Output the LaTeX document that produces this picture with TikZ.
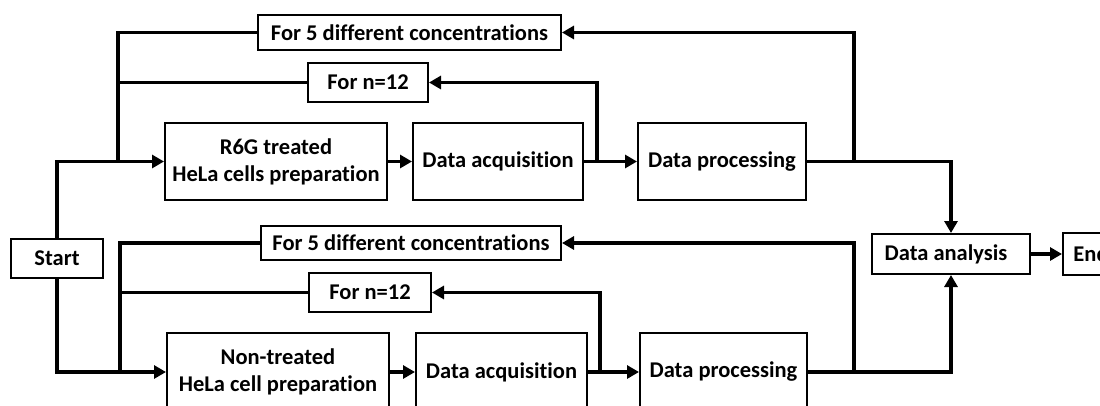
\documentclass[tikz,border=0pt]{standalone}
\usepackage{fontspec}
\setmainfont{Carlito}[Ligatures=NoCommon]
\usetikzlibrary{arrows.meta}
\begin{document}
\begin{tikzpicture}[x=1pt,y=-1pt,
  box/.style={draw, line width=2pt, fill=white, inner sep=0pt,
    font=\fontsize{22.5}{27}\selectfont\bfseries, align=center},
  conn/.style={line width=3.2pt},
  arr/.style={conn, -{Triangle[length=12pt,width=13pt]}}]
\useasboundingbox (0,0) rectangle (1100,405);
\clip (0,0) rectangle (1100,405);
% top row
\node[box, minimum width=303pt, minimum height=35pt] (c5a) at (409.5,32.5) {For 5 different concentrations};
\node[box, minimum width=120pt, minimum height=39pt] (n12a) at (368,82.5) {For n=12};
\node[box, minimum width=222pt, minimum height=77pt] (r6g) at (276,161.5) {R6G treated\\HeLa cells preparation};
\node[box, minimum width=170pt, minimum height=77pt] (daa) at (498,161.5) {Data acquisition};
\node[box, minimum width=168pt, minimum height=77pt] (dpa) at (722,161.5) {Data processing};
% start
\node[box, minimum width=92pt, minimum height=39pt] (start) at (57,258.5) {Start};
% bottom row
\node[box, minimum width=300pt, minimum height=34pt] (c5b) at (411,243) {For 5 different concentrations};
\node[box, minimum width=122pt, minimum height=39pt] (n12b) at (370,292.5) {For n=12};
\node[box, minimum width=222pt, minimum height=78pt] (nt) at (278,372) {Non-treated\\HeLa cell preparation};
\node[box, minimum width=171pt, minimum height=78pt] (dab) at (501.5,372) {Data acquisition};
\node[box, minimum width=167pt, minimum height=78pt] (dpb) at (723.5,372) {Data processing};
% analysis and end
\node[box, minimum width=158pt, minimum height=40pt] (dan) at (951,254) {Data analysis\hspace*{10pt}};
\node[box, minimum width=56pt, minimum height=42pt] (end) at (1091,254) {End};
% junction coordinates
\coordinate (la) at (118,161.5);
\coordinate (lb) at (120,372);
\coordinate (ja) at (597,161.5);
\coordinate (jb) at (600,372);
\coordinate (ka) at (854,161.5);
\coordinate (kb) at (854,372);
% top connectors
\draw[arr] (start.north) |- (r6g.west);
\draw[arr] (r6g.east) -- (daa.west);
\draw[arr] (daa.east) -- (dpa.west);
\draw[arr] (ja) |- (n12a.east);
\draw[arr] (ka) |- (c5a.east);
\draw[arr] (dpa.east) -| (dan.north);
\draw[conn] (c5a.west) -| (la);
\draw[conn] (n12a.west) -- (n12a.west -| la);
% bottom connectors
\draw[arr] (start.south) |- (nt.west);
\draw[arr] (nt.east) -- (dab.west);
\draw[arr] (dab.east) -- (dpb.west);
\draw[arr] (jb) |- (n12b.east);
\draw[arr] (kb) |- (c5b.east);
\draw[arr] (dpb.east) -| (dan.south);
\draw[conn] (c5b.west) -| (lb);
\draw[conn] (n12b.west) -- (n12b.west -| lb);
\draw[arr] (dan.east) -- (end.west);
\end{tikzpicture}
\end{document}
